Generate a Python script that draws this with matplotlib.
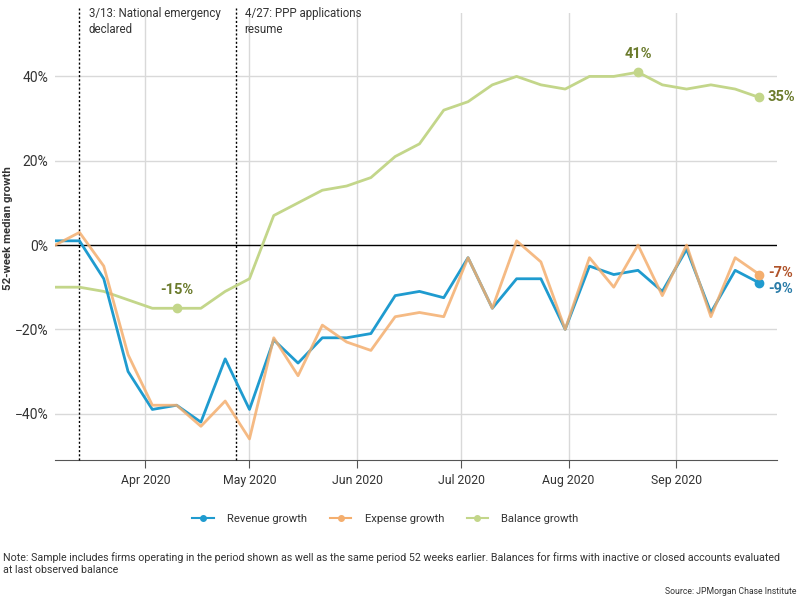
import matplotlib
matplotlib.use('Agg')
import matplotlib.pyplot as plt
import matplotlib.dates as mdates
from matplotlib.ticker import FuncFormatter
import pandas as pd

# data (weekly, percent)
dates = pd.date_range('2020-03-06', periods=30, freq='7D')
revenue = [1, 1, -8, -30, -39, -38, -42, -27, -39, -22.5, -28, -22, -22, -21, -12,
           -11, -12.5, -3, -15, -8, -8, -20, -5, -7, -6, -11, -1, -16, -6, -9]
expense = [0, 3, -5, -26, -38, -38, -43, -37, -46, -22, -31, -19, -23, -25, -17,
           -16, -17, -3, -15, 1, -4, -20, -3, -10, 0, -12, 0, -17, -3, -7]
balance = [-10, -10, -11, -13, -15, -15, -15, -11, -8, 7, 10, 13, 14, 16, 21,
           24, 32, 34, 38, 40, 38, 37, 40, 40, 41, 38, 37, 38, 37, 35]
events = [('2020-03-13', '3/13: National emergency\ndeclared'),
          ('2020-04-27', '4/27: PPP applications\nresume')]
yticks = [-40, -20, 0, 20, 40]

plt.rcParams['font.family'] = ['Roboto', 'DejaVu Sans']

BLUE = '#1f9bcf'
ORANGE = '#f4ae6e'
GREEN = '#c3d68a'
GRID = '#d9d9d9'
TEXT = '#333333'

fig = plt.figure(figsize=(8, 5.99), dpi=100)
ax = fig.add_axes([0.069, 0.232, 0.902, 0.746])

ax.set_xlim(pd.Timestamp('2020-03-06'), pd.Timestamp('2020-09-30'))
ax.set_ylim(-51, 55)

# grid
for y in yticks:
    if y == 0:
        ax.axhline(0, color='black', lw=1, zorder=2)
    else:
        ax.axhline(y, color=GRID, lw=1, zorder=0)
ax.xaxis.set_major_locator(mdates.MonthLocator(bymonth=[4, 5, 6, 7, 8, 9]))
ax.xaxis.set_major_formatter(mdates.DateFormatter('%b %Y'))
ax.grid(axis='x', color=GRID, lw=1, zorder=0)

# event markers
for d, label in events:
    ax.axvline(pd.Timestamp(d), ymin=0, ymax=1.012, color='black', lw=1,
               ls=(0, (1.5, 1.5)), clip_on=False, zorder=3)
    ax.annotate(label, xy=(pd.Timestamp(d), 1.013), xycoords=('data', 'axes fraction'),
                xytext=(6.5, 0), textcoords='offset points', ha='left', va='top',
                fontsize=8.3, color=TEXT, linespacing=1.3)

# series
ax.plot(dates, balance, color=GREEN, lw=2, zorder=4, label='Balance growth')
ax.plot(dates, revenue, color=BLUE, lw=2, zorder=5, label='Revenue growth')
ax.plot(dates, expense, color=ORANGE, lw=2, alpha=0.85, zorder=6, label='Expense growth')

# highlighted points
ax.plot(dates[-1], revenue[-1], 'o', color=BLUE, ms=6, zorder=7)
ax.plot(dates[-1], expense[-1], 'o', color=ORANGE, ms=6, zorder=7)
for i in [5, 24, 29]:
    ax.plot(dates[i], balance[i], 'o', color=GREEN, ms=6, zorder=7)

lab = dict(fontsize=10.5, fontweight='bold')
ax.annotate('%d%%' % balance[5], (dates[5], balance[5]), xytext=(0, 8),
            textcoords='offset points', ha='center', va='bottom', color='#6b7b2c', **lab)
ax.annotate('%d%%' % balance[24], (dates[24], balance[24]), xytext=(0, 8),
            textcoords='offset points', ha='center', va='bottom', color='#6b7b2c', **lab)
ax.annotate('%d%%' % balance[29], (dates[29], balance[29]), xytext=(6, 0),
            textcoords='offset points', ha='left', va='center', color='#6b7b2c', **lab)
ax.annotate('%d%%' % expense[29], (dates[29], expense[29]), xytext=(6, 1),
            textcoords='offset points', ha='left', va='center', color='#b0532a', **lab)
ax.annotate('%d%%' % revenue[29], (dates[29], revenue[29]), xytext=(6, -4.5),
            textcoords='offset points', ha='left', va='center', color='#2a7ca8', **lab)

# axes styling
ax.set_yticks(yticks)
ax.yaxis.set_major_formatter(FuncFormatter(lambda v, p: '%d%%' % v if v >= 0 else '\u2212%d%%' % -v))
for s in ['top', 'right', 'left']:
    ax.spines[s].set_visible(False)
ax.spines['bottom'].set_color('#555555')
ax.tick_params(axis='y', length=0, pad=5, labelsize=10, labelcolor=TEXT)
ax.tick_params(axis='x', length=6, color='#555555', labelsize=8.8, labelcolor=TEXT, pad=4)
ax.set_ylabel('52-week median growth', fontsize=8.2, fontweight='bold', color=TEXT)
ax.yaxis.set_label_coords(-0.059, 0.52)

handles, labels = ax.get_legend_handles_labels()
order = [1, 2, 0]
leg_h = []
for i in order:
    h = plt.Line2D([], [], color=handles[i].get_color(), lw=1.5, marker='o', ms=4)
    leg_h.append(h)
fig.legend(leg_h, [labels[i] for i in order], loc='center', bbox_to_anchor=(0.482, 0.133),
           ncol=3, frameon=False, fontsize=8.1, handlelength=1.9, columnspacing=2.0,
           handletextpad=1.2, labelcolor=TEXT)

fig.text(0.004, 0.059, 'Note: Sample includes firms operating in the period shown as well as the same '
         'period 52 weeks earlier. Balances for firms with inactive or closed accounts evaluated\n'
         'at last observed balance', fontsize=7.65, color=TEXT, va='center', linespacing=1.32)
fig.text(0.996, 0.013, 'Source: JPMorgan Chase Institute', fontsize=6.2, color=TEXT,
         ha='right', va='center')

fig.savefig('out.png', dpi=100)
